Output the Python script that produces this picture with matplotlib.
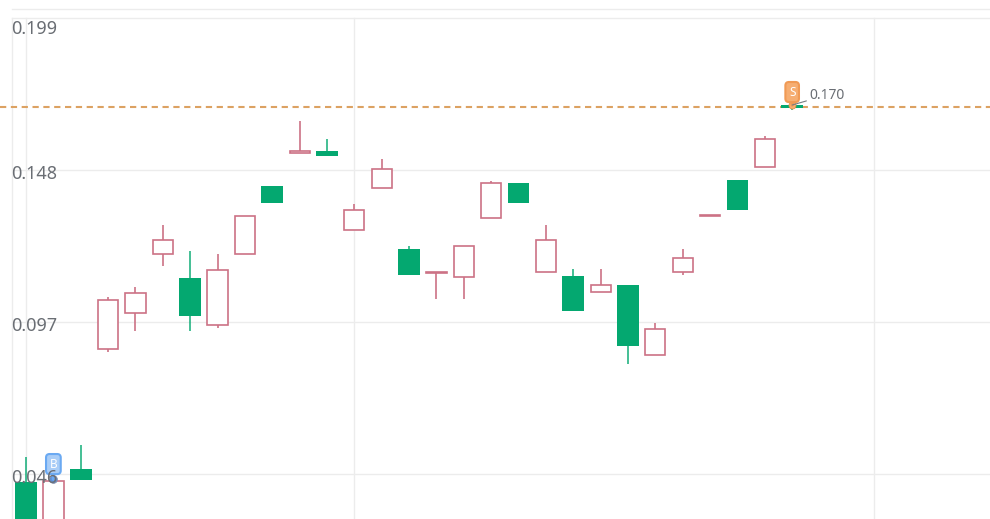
import numpy as np
import matplotlib
matplotlib.use("Agg")
import matplotlib.pyplot as plt

plt.rcParams["font.family"] = ["Noto Sans", "DejaVu Sans"]

# ---- candle data, top/bottom of body plus wicks ----
body_top = [0.0433, 0.0436, 0.0477, 0.1044, 0.1067, 0.1245, 0.1118, 0.1144, 0.1326, 0.1426,
            0.1544, 0.1544, 0.1346, 0.1483, 0.1215, 0.1138, 0.1225, 0.1436, 0.1436, 0.1245,
            0.1124, 0.1094, 0.1094, 0.0947, 0.1185, 0.1329, 0.1446, 0.1584, 0.1698]
body_bot = [0.0290, 0.0290, 0.0440, 0.0879, 0.1000, 0.1198, 0.0990, 0.0960, 0.1198, 0.1369,
            0.1537, 0.1527, 0.1279, 0.1420, 0.1128, 0.1134, 0.1121, 0.1319, 0.1369, 0.1138,
            0.1007, 0.1071, 0.0889, 0.0859, 0.1138, 0.1326, 0.1346, 0.1490, 0.1688]
high = [0.0517, 0.0436, 0.0557, 0.1054, 0.1087, 0.1296, 0.1208, 0.1198, 0.1326, 0.1426,
        0.1644, 0.1584, 0.1366, 0.1517, 0.1225, 0.1138, 0.1225, 0.1443, 0.1436, 0.1296,
        0.1148, 0.1148, 0.1094, 0.0967, 0.1215, 0.1329, 0.1446, 0.1594, 0.1698]
low = [0.0290, 0.0290, 0.0440, 0.0869, 0.0940, 0.1158, 0.0940, 0.0950, 0.1198, 0.1369,
       0.1537, 0.1527, 0.1279, 0.1420, 0.1128, 0.1047, 0.1047, 0.1319, 0.1369, 0.1138,
       0.1007, 0.1071, 0.0829, 0.0859, 0.1128, 0.1326, 0.1346, 0.1490, 0.1681]
is_down = [1, 0, 1, 0, 0, 0, 1, 0, 0, 1, 0, 1, 0, 0, 1, 0, 0, 0, 1, 0, 1, 0, 1, 0, 0, 0, 1, 0, 1]

y_ticks = [0.199, 0.148, 0.097, 0.046]
y_labels = ["0.199", "0.148", "0.097", "0.046"]
x_grid = [0, 12, 31]
ref_line = 0.1691
buy_point = (1, 0.0443)
sell_point = (28, 0.1698)
sell_label = "0.170"

GREEN = "#04a870"
RED = "#cc7285"
GRID = "#ececec"
TEXT = "#6a6e74"
BLUE = "#6aa9f2"
ORANGE = "#f6ae72"

DPI = 100
fig = plt.figure(figsize=(990 / DPI, 519 / DPI), dpi=DPI, facecolor="white")
ax = fig.add_axes([0, 0, 1, 1])
ax.set_xlim(-0.951, 35.23)
ax.set_ylim(0.0309, 0.20504)
ax.axis("off")

# ---- grid ----
for v in y_ticks:
    ax.axhline(v, xmin=12 / 990, color=GRID, lw=1, zorder=1)
for v in x_grid:
    ax.axvline(v, ymax=1 - 18 / 519, color=GRID, lw=1, zorder=1)
ax.axvline(-0.512, ymax=1 - 18 / 519, color=GRID, lw=1, zorder=1)
ax.plot([12 / 990, 1], [1 - 9 / 519] * 2, transform=ax.transAxes, color=GRID, lw=1, zorder=1)

# ---- sell price line, under the candles ----
ax.axhline(ref_line, color="#dca262", lw=1.5, dashes=(3, 2.2), zorder=1.5)

# ---- candles ----
x = np.arange(len(body_top))
body_top = np.array(body_top)
body_bot = np.array(body_bot)
high = np.array(high)
low = np.array(low)
down = np.array(is_down, dtype=bool)
ax.vlines(x[down], low[down], high[down], color=GREEN, lw=1.3, alpha=0.8, zorder=2)
ax.vlines(x[~down], low[~down], high[~down], color=RED, lw=1.2, zorder=2)
ax.bar(x[down], (body_top - body_bot)[down], bottom=body_bot[down], width=0.79,
       color=GREEN, edgecolor="none", zorder=3)
ax.bar(x[~down], (body_top - body_bot)[~down], bottom=body_bot[~down], width=0.74,
       facecolor="white", edgecolor=RED, lw=1.2, zorder=3)

# ---- y labels sit inside the plot ----
trans = ax.get_yaxis_transform()
for i, (v, s) in enumerate(zip(y_ticks, y_labels)):
    off = -11 if i == 0 else -4
    ax.annotate(s, (11 / 990, v), xycoords=trans, xytext=(0, off), textcoords="offset pixels",
                ha="left", va="center", fontsize=13, color=TEXT, zorder=8)

# ---- buy / sell pins: dot, small tail, badge ----
ax.scatter(*buy_point, s=32, color="#5b8fd8", edgecolor="#8a8fa0", lw=0.5, zorder=6)
ax.scatter(*sell_point, s=26, color=ORANGE, edgecolor="#e08a3c", lw=0.5, zorder=6)
ax.annotate("", buy_point, xytext=(0, 10), textcoords="offset pixels",
            arrowprops=dict(arrowstyle="-", color=BLUE, lw=2.5, shrinkA=0, shrinkB=0), zorder=6)
ax.annotate("", sell_point, xytext=(0, 8), textcoords="offset pixels",
            arrowprops=dict(arrowstyle="-", color="#f09a55", lw=2.5, shrinkA=0, shrinkB=0), zorder=6)
ax.annotate("B", buy_point, xytext=(0, 15), textcoords="offset pixels", ha="center", va="center",
            fontsize=8.5, color="white", fontweight="bold", zorder=7,
            bbox=dict(boxstyle="round,pad=0.3", fc="#a9cdf7", ec=BLUE, lw=1.5))
ax.annotate("S", sell_point, xytext=(0, 13), textcoords="offset pixels", ha="center", va="center",
            fontsize=8.5, color="white", fontweight="bold", zorder=7,
            bbox=dict(boxstyle="round,pad=0.3", fc=ORANGE, ec="#f09a55", lw=1.5))
ax.annotate(sell_label, sell_point, xytext=(17, 10), textcoords="offset pixels", ha="left", va="center",
            fontsize=10, color=TEXT, zorder=7,
            arrowprops=dict(arrowstyle="-", color="#777b80", lw=0.8, shrinkA=0, shrinkB=0))

fig.savefig("out.png", dpi=DPI, facecolor="white")
